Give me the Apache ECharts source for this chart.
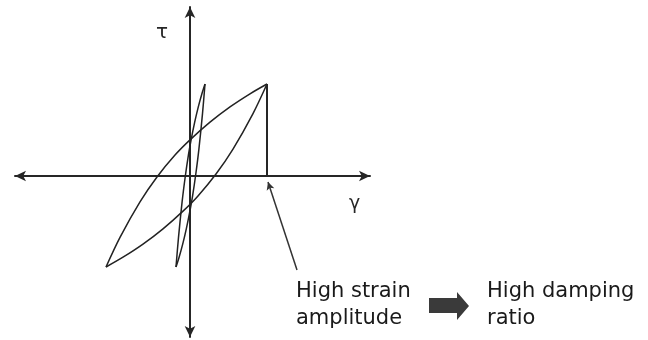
<!DOCTYPE html>
<html>
<head>
<meta charset="utf-8">
<title>Hysteresis loops</title>
<script src="https://cdn.jsdelivr.net/npm/echarts@6/dist/echarts.min.js"></script>
<style>
	html, body { margin: 0; padding: 0; background: #fff; }
	#hysteresisChart { width: 648px; height: 340px; }
</style>
</head>
<body>
<div id="hysteresisChart"></div>
<script>
'use strict';

// data: [gamma, tau]
// large loop (high strain amplitude)
var bigUpper = [
	[-8.4, -9.1], [-7.0, -6.14], [-5.0, -2.59], [-3.3, -0.1], [-1.5, 2.09],
	[0, 3.61], [2.0, 5.38], [4.0, 6.91], [6.0, 8.22], [7.7, 9.2]
];
var bigLower = [
	[-8.4, -9.1], [-6.7, -8.12], [-4.7, -6.81], [-2.7, -5.28], [-0.7, -3.51],
	[0.8, -1.99], [2.6, 0.2], [4.3, 2.69], [6.3, 6.24], [7.7, 9.2]
];
// small loop (low strain amplitude)
var smallLeft = [
	[-1.4, -9.1], [-1.15, -6.14], [-0.79, -2.59], [-0.48, -0.1], [-0.16, 2.09],
	[0.11, 3.61], [0.47, 5.38], [0.83, 6.91], [1.19, 8.22], [1.5, 9.2]
];
var smallRight = [
	[1.5, 9.2], [1.25, 6.24], [0.89, 2.69], [0.58, 0.2], [0.26, -1.99],
	[-0.01, -3.51], [-0.37, -5.28], [-0.73, -6.81], [-1.09, -8.12], [-1.4, -9.1]
];
// pointer towards the amplitude
var pointerFrom = [10.7, -9.4];
var pointerTo = [7.8, -0.6];

// axis ranges
var gammaRange = [-17.5, 18.0];
var tauRange = [-16.1, 16.9];

// labels
var tauLabel = 'τ';
var gammaLabel = 'γ';
var causeLabel = 'High strain\namplitude';
var effectLabel = 'High damping\nratio';

var ink = '#262626';
var textFont = '"DejaVu Sans", sans-serif';

function branch(data) {
	return {
		type: 'line',
		data: data,
		symbol: 'none',
		smooth: 0.3,
		clip: false,
		silent: true,
		lineStyle: { color: '#222', width: 1.5 }
	};
}

function loadChart() {
	var chart = echarts.init(document.getElementById('hysteresisChart'));
	var tip = bigUpper[bigUpper.length - 1];

	var axisStyle = {
		onZero: true,
		symbol: ['arrow', 'arrow'],
		symbolSize: [8, 11],
		lineStyle: { color: ink, width: 2 }
	};

	chart.setOption({
		animation: false,
		grid: { left: 15, right: 278, top: 7, bottom: 3 },
		xAxis: {
			type: 'value',
			min: gammaRange[0],
			max: gammaRange[1],
			axisLine: axisStyle,
			axisTick: { show: false },
			axisLabel: { show: false },
			splitLine: { show: false }
		},
		yAxis: {
			type: 'value',
			min: tauRange[0],
			max: tauRange[1],
			axisLine: axisStyle,
			axisTick: { show: false },
			axisLabel: { show: false },
			splitLine: { show: false }
		},
		series: [
			branch(bigUpper),
			branch(bigLower),
			branch(smallLeft),
			branch(smallRight),
			{
				// drop line from the loop tip to the strain axis
				type: 'line',
				data: [[tip[0], 0], tip],
				symbol: 'none',
				silent: true,
				lineStyle: { color: ink, width: 2 },
				markLine: {
					silent: true,
					symbol: ['none', 'arrow'],
					symbolSize: [6, 8],
					label: { show: false },
					lineStyle: { color: '#333', width: 1.5, type: 'solid' },
					data: [[{ coord: pointerFrom }, { coord: pointerTo }]]
				}
			}
		],
		graphic: [
			{
				type: 'text', left: 156, top: 23,
				style: { text: tauLabel, font: '20px ' + textFont, fill: ink }
			},
			{
				type: 'text', left: 349, top: 195,
				style: { text: gammaLabel, font: '19px ' + textFont, fill: ink }
			},
			{
				type: 'text', left: 296, top: 278,
				style: { text: causeLabel, font: '21px ' + textFont, lineHeight: 27, fill: '#1a1a1a' }
			},
			{
				type: 'polygon',
				shape: {
					points: [[429, 298], [457, 298], [457, 292], [469, 306],
						[457, 320], [457, 313], [429, 313]]
				},
				style: { fill: '#3a3a3a' }
			},
			{
				type: 'text', left: 487, top: 278,
				style: { text: effectLabel, font: '21px ' + textFont, lineHeight: 27, fill: '#1a1a1a' }
			}
		]
	});
}

loadChart();
</script>
</body>
</html>
